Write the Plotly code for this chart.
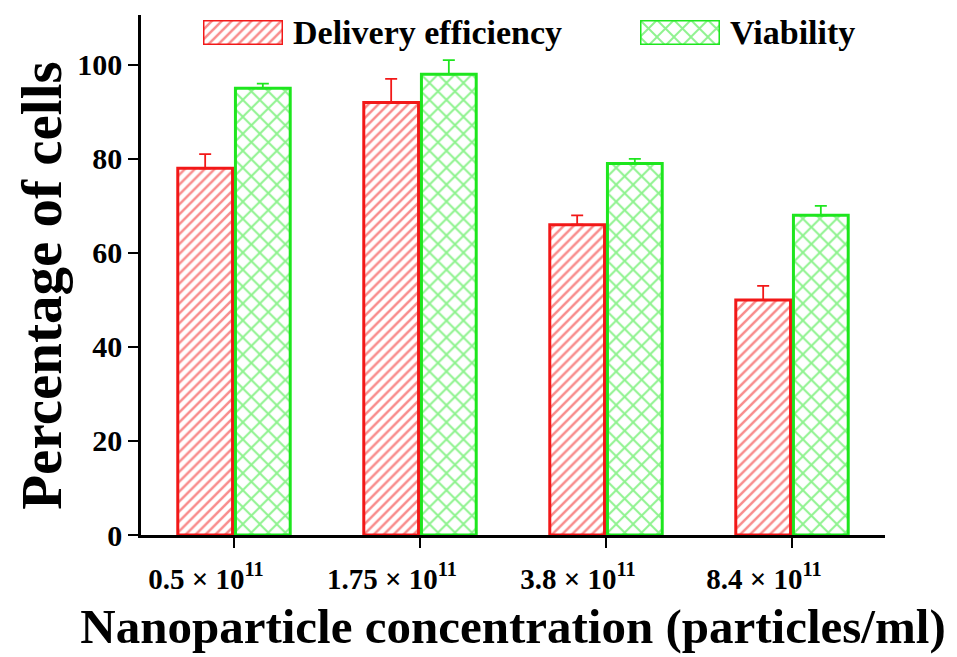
import plotly.graph_objects as go

categories = ["0.5 × 10<sup>11</sup>", "1.75 × 10<sup>11</sup>", "3.8 × 10<sup>11</sup>", "8.4 × 10<sup>11</sup>"]
delivery = [78, 92, 66, 50]
delivery_err = [3, 5, 2, 3]
viability = [95, 98, 79, 68]
viability_err = [1, 3, 1, 2]
series_names = ["Delivery efficiency", "Viability"]
y_title = "Percentage of cells"
x_title = "Nanoparticle concentration (particles/ml)"

RED = "#F21818"
GREEN = "#1EE61E"
FONT = "Liberation Serif"

red_pat = dict(shape="/", fgcolor=RED, bgcolor="white", size=7, solidity=0.36)
green_pat = dict(shape="x", fgcolor=GREEN, bgcolor="white", size=12, solidity=0.3)

fig = go.Figure()
fig.add_trace(go.Bar(
    x=categories, y=delivery, name=series_names[0],
    marker=dict(color="white", line=dict(color=RED, width=3), pattern=red_pat),
    error_y=dict(type="data", symmetric=False, array=delivery_err, arrayminus=[0]*4,
                 color=RED, thickness=1.8, width=6),
    showlegend=False,
))
fig.add_trace(go.Bar(
    x=categories, y=viability, name=series_names[1],
    marker=dict(color="white", line=dict(color=GREEN, width=3), pattern=green_pat),
    error_y=dict(type="data", symmetric=False, array=viability_err, arrayminus=[0]*4,
                 color=GREEN, thickness=1.8, width=6),
    showlegend=False,
))

# legend swatches as small bars on their own hidden axes
fig.add_trace(go.Bar(x=[0], y=[1], width=[1], xaxis="x2", yaxis="y2", showlegend=False, hoverinfo="skip",
                     marker=dict(color="white", line=dict(color=RED, width=3), pattern=red_pat)))
fig.add_trace(go.Bar(x=[0], y=[1], width=[1], xaxis="x3", yaxis="y3", showlegend=False, hoverinfo="skip",
                     marker=dict(color="white", line=dict(color=GREEN, width=3), pattern=green_pat)))

hidden = dict(visible=False, fixedrange=True)
fig.update_layout(
    xaxis2=dict(domain=[0.0833, 0.1909], range=[-0.5, 0.5], anchor="y2", **hidden),
    yaxis2=dict(domain=[0.9425, 0.9904], range=[0, 1], anchor="x2", **hidden),
    xaxis3=dict(domain=[0.6707, 0.7782], range=[-0.5, 0.5], anchor="y3", **hidden),
    yaxis3=dict(domain=[0.9425, 0.9904], range=[0, 1], anchor="x3", **hidden),
)

fig.add_annotation(xref="paper", yref="paper", x=0.2016, y=0.9665, xanchor="left", yanchor="middle",
                   text=series_names[0], showarrow=False,
                   font=dict(family=FONT, size=34, color="black", weight="bold"))
fig.add_annotation(xref="paper", yref="paper", x=0.7889, y=0.9665, xanchor="left", yanchor="middle",
                   text=series_names[1], showarrow=False,
                   font=dict(family=FONT, size=34, color="black", weight="bold"))
# y-axis title (placed as annotation to match vertical offset)
fig.add_annotation(xref="paper", yref="paper", x=-0.134, y=0.48, xanchor="center", yanchor="middle",
                   text=y_title, textangle=-90, showarrow=False,
                   font=dict(family=FONT, size=57, color="black", weight="bold"))

fig.update_layout(
    width=957, height=657,
    margin=dict(l=141, r=72, t=15, b=120),
    paper_bgcolor="white", plot_bgcolor="white",
    barmode="group", bargap=0.38, bargroupgap=0.05,
    font=dict(family=FONT, color="black"),
    xaxis=dict(
        range=[-0.5, 3.5], showline=True, linecolor="black", linewidth=2.5,
        ticks="outside", ticklen=10, tickwidth=2, tickcolor="black",
        tickfont=dict(family=FONT, size=29, weight="bold"),
        ticklabelshift=-28, ticklabelstandoff=6,
        showgrid=False, zeroline=False,
        title=dict(text=x_title, standoff=16,
                   font=dict(family=FONT, size=49, weight="bold")),
    ),
    yaxis=dict(
        range=[0, 110.6], showline=True, linecolor="black", linewidth=2.5,
        tickvals=[0, 20, 40, 60, 80, 100],
        ticks="outside", ticklen=10, tickwidth=2, tickcolor="black",
        tickfont=dict(family=FONT, size=30, weight="bold"),
        showgrid=False, zeroline=False,
    ),
)

fig.write_html("out.html")
